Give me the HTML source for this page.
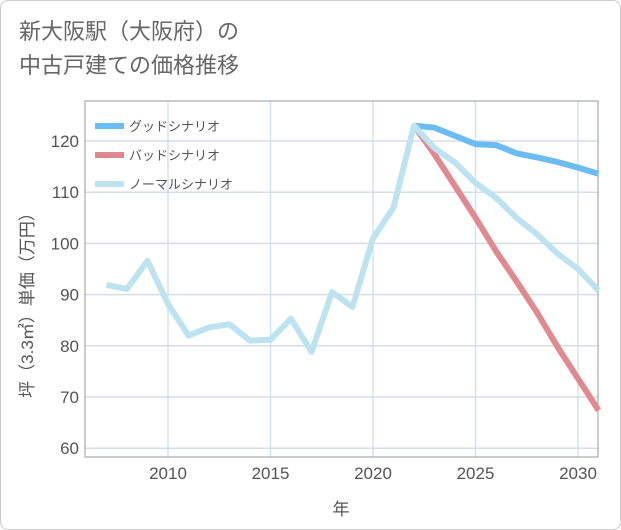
<!DOCTYPE html>
<html><head><meta charset="utf-8">
<style>
body{margin:0;background:#fff;}
#wrap{position:relative;width:619px;height:528px;border:1px solid #ccc;border-radius:8px;overflow:hidden;font-family:"Liberation Sans","Noto Sans CJK JP",sans-serif;}
#title{position:absolute;left:18px;top:14px;font-size:22px;line-height:34px;color:#666;}
svg{position:absolute;left:0;top:0;}
</style></head><body>
<div id="wrap">
<div id="title">新大阪駅（大阪府）の<br>中古戸建ての価格推移</div>
<svg id="chart" width="621" height="530"></svg>
</div>
<script>
const normalYears=[2007,2008,2009,2010,2011,2012,2013,2014,2015,2016,2017,2018,2019,2020,2021,2022,2023,2024,2025,2026,2027,2028,2029,2030,2031];
const normalVals=[91.9,91.1,96.6,88.2,82.0,83.6,84.2,81.0,81.2,85.3,78.8,90.5,87.6,101,107,123,118.6,115.8,111.8,108.9,105,101.8,98,95,90.8];
const futureYears=[2022,2023,2024,2025,2026,2027,2028,2029,2030,2031];
const goodVals=[123,122.6,121,119.4,119.2,117.6,116.8,115.9,114.8,113.6];
const badVals=[123,117.4,111.2,105,98.5,92.6,86.5,79.8,73.6,67.4];
const xTicks=[2010,2015,2020,2025,2030];
const yTicks=[60,70,80,90,100,110,120];
const L=84,R=597,T=100,B=456;
const X=y=>167+(y-2010)*20.5;
const Y=v=>140+(120-v)*5.12;
const svg=document.getElementById('chart');
const NS='http://www.w3.org/2000/svg';
function mk(t,a){const e=document.createElementNS(NS,t);for(const k in a)e.setAttribute(k,a[k]);svg.appendChild(e);return e;}
yTicks.forEach(v=>{const l=mk('line',{x1:L,x2:R,y1:Y(v),y2:Y(v),stroke:'#d5dde8','stroke-width':1.5});

const t=mk('text',{x:L-6,y:Y(v)+6,'text-anchor':'end','font-size':17,fill:'#555'});t.textContent=v;
});
xTicks.forEach(v=>{const l=mk('line',{x1:X(v),x2:X(v),y1:T,y2:B,stroke:'#d0e4f0','stroke-width':1.5});

const t=mk('text',{x:X(v),y:B+22,'text-anchor':'middle','font-size':17,fill:'#555'});t.textContent=v;
});
const fr=mk('rect',{x:L,y:T,width:R-L,height:B-T,fill:'none',stroke:'#999','stroke-width':1});

function line(xs,vs,c,name){const p=mk('polyline',{points:xs.map((x,i)=>X(x)+','+Y(vs[i])).join(' '),fill:'none',stroke:c,'stroke-width':6,'stroke-linejoin':'round'});
}
line(futureYears,goodVals,'#6bbcf2','good-scenario-line');
line(futureYears,badVals,'#e08a90','bad-scenario-line');
line(normalYears,normalVals,'#bde2f0','normal-scenario-line');
const leg=[['グッドシナリオ','#6bbcf2'],['バッドシナリオ','#e08a90'],['ノーマルシナリオ','#bde2f0']];
leg.forEach((d,i)=>{const y=125+i*29;
const l=mk('line',{x1:94,x2:123,y1:y,y2:y,stroke:d[1],'stroke-width':6});

const t=mk('text',{x:128,y:y+5,'font-size':13,fill:'#555'});t.textContent=d[0];
});
const xt=mk('text',{x:340,y:514,'text-anchor':'middle','font-size':17,fill:'#555'});xt.textContent='年';

const yt=mk('text',{x:0,y:0,'text-anchor':'middle','font-size':17,fill:'#555',transform:'translate(32,300) rotate(-90)'});yt.textContent='坪（3.3㎡）単価（万円）';

</script>
</body></html>
